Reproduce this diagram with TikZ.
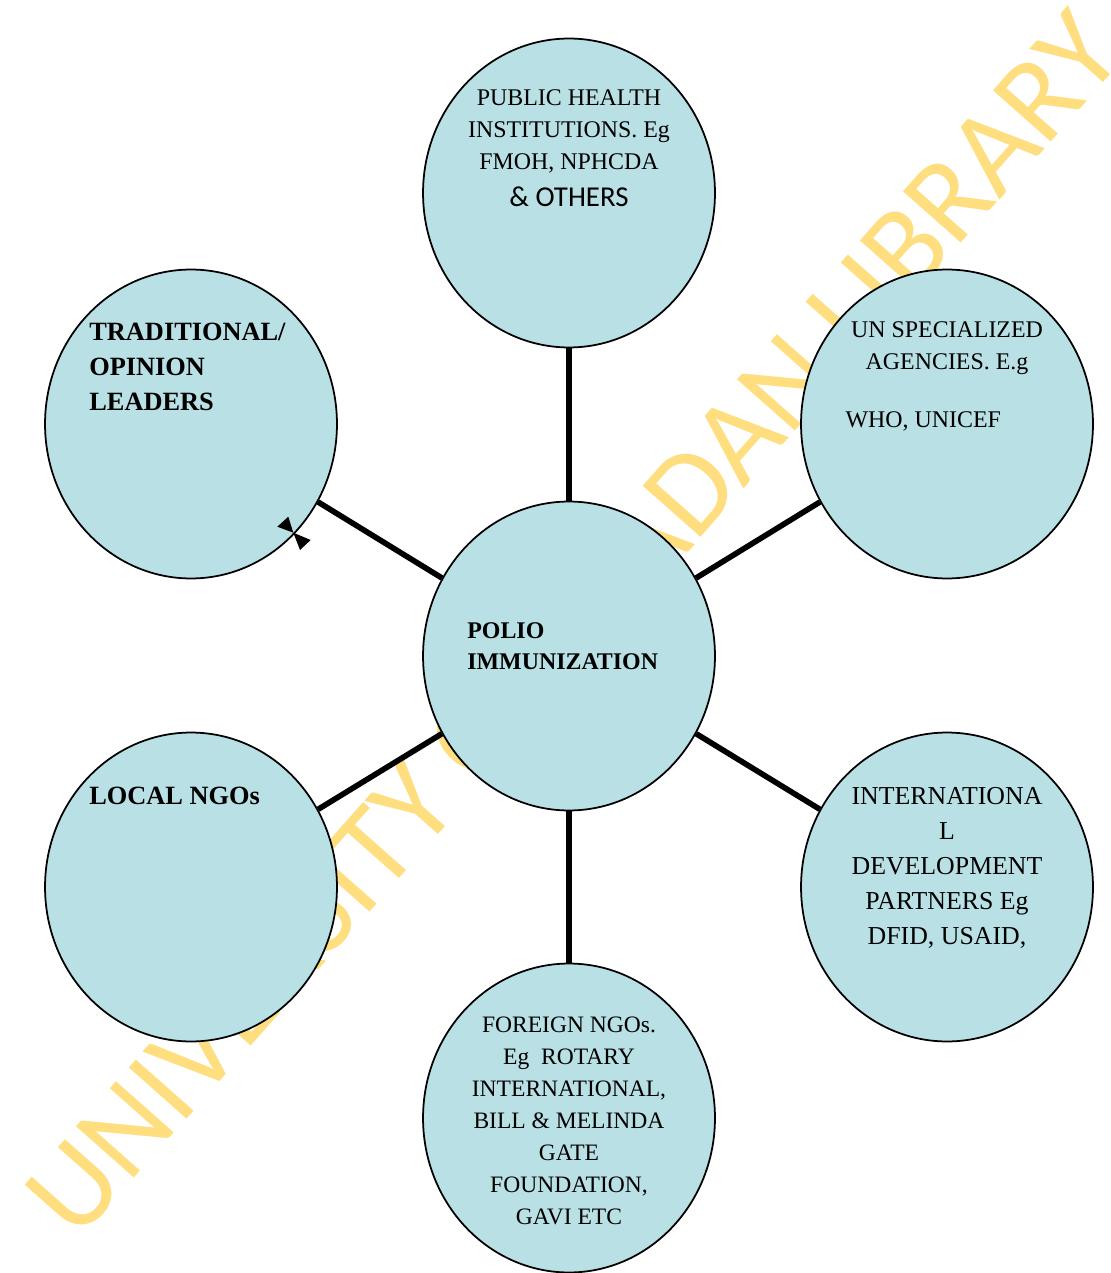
\documentclass[tikz,border=0pt]{standalone}
\usepackage{fontspec}
\setmainfont{Liberation Serif}
\newfontfamily\calibfont{Carlito}
\usetikzlibrary{shapes.geometric}
\definecolor{bubblefill}{RGB}{185,224,228}
\definecolor{wmarkyellow}{RGB}{255,222,128}

\begin{document}
\begin{tikzpicture}[x=0.02cm, y=-0.02cm,
        % styles
        bubble/.style = {
                ellipse, draw=black, line width=1pt, fill=bubblefill,
                minimum width=5.84cm, minimum height=6.18cm, inner sep=0pt
            },
        txt/.style = {
                inner sep=0pt, align=center,
                font=\fontsize{13.6pt}{18.2pt}\selectfont
            },
        boldtxt/.style = {
                inner sep=0pt, align=left, anchor=north west,
                font=\fontsize{15pt}{19.9pt}\selectfont\bfseries
            },
        link/.style = {
                line width=3.2pt
            }]

    \useasboundingbox (0,0) rectangle (1110,1273);

    % watermark
    \node (wmark) [rotate=48.5, text=wmarkyellow, inner sep=0pt,
        font=\calibfont\fontsize{68.5pt}{68.5pt}\selectfont] at (573,624) {UNIVERSITY OF IBADAN LIBRARY};

    \node (polio) [bubble] at (569,656) {};
    \node (pub_health) [bubble] at (569,193) {};
    \node (un_agencies) [bubble] at (947,424) {};
    \node (intl_partners) [bubble] at (947,887) {};
    \node (foreign_ngos) [bubble] at (569,1118) {};
    \node (local_ngos) [bubble] at (191,887) {};
    \node (trad_leaders) [bubble] at (191,424) {};

    % links
    \draw [link] (polio) -- (pub_health);
    \draw [link] (polio) -- (un_agencies);
    \draw [link] (polio) -- (intl_partners);
    \draw [link] (polio) -- (foreign_ngos);
    \draw [link] (polio) -- (local_ngos);
    \draw [link] (polio) -- (trad_leaders);

    % stray tips on the leaders circle
    \fill (277.3,526.7) -- (288.3,516.7) -- (293.3,532.7) -- cycle;
    \fill (293.3,532.7) -- (310.7,540) -- (300,550) -- cycle;

    % labels
    \node (polio_txt) [boldtxt, font=\fontsize{13.6pt}{17.6pt}\selectfont\bfseries] at (467,622) {POLIO\\IMMUNIZATION};
    \node (pub_health_txt) [txt, anchor=north] at (569,89) {PUBLIC HEALTH\\INSTITUTIONS. Eg\\FMOH, NPHCDA\\[2.8pt]{\calibfont\fontsize{16.4pt}{18.2pt}\selectfont \& OTHERS}};
    \node (un_agencies_txt) [txt, anchor=north] at (947,321) {UN SPECIALIZED\\AGENCIES. E.g\\[14.8pt]WHO, UNICEF\hspace*{27pt}};
    \node (intl_partners_txt) [txt, anchor=north, font=\fontsize{14.7pt}{19.9pt}\selectfont] at (947,787) {INTERNATIONA\\L\\DEVELOPMENT\\PARTNERS Eg\\DFID, USAID,};
    \node (foreign_ngos_txt) [txt, anchor=north, font=\fontsize{13.4pt}{18.2pt}\selectfont] at (569,1017) {FOREIGN NGOs.\\Eg~~ROTARY\\INTERNATIONAL,\\BILL \& MELINDA\\GATE\\FOUNDATION,\\GAVI ETC};
    \node (local_ngos_txt) [boldtxt] at (89,787) {LOCAL NGOs};
    \node (trad_leaders_txt) [boldtxt] at (89,323) {TRADITIONAL/\\OPINION\\LEADERS};

\end{tikzpicture}
\end{document}
